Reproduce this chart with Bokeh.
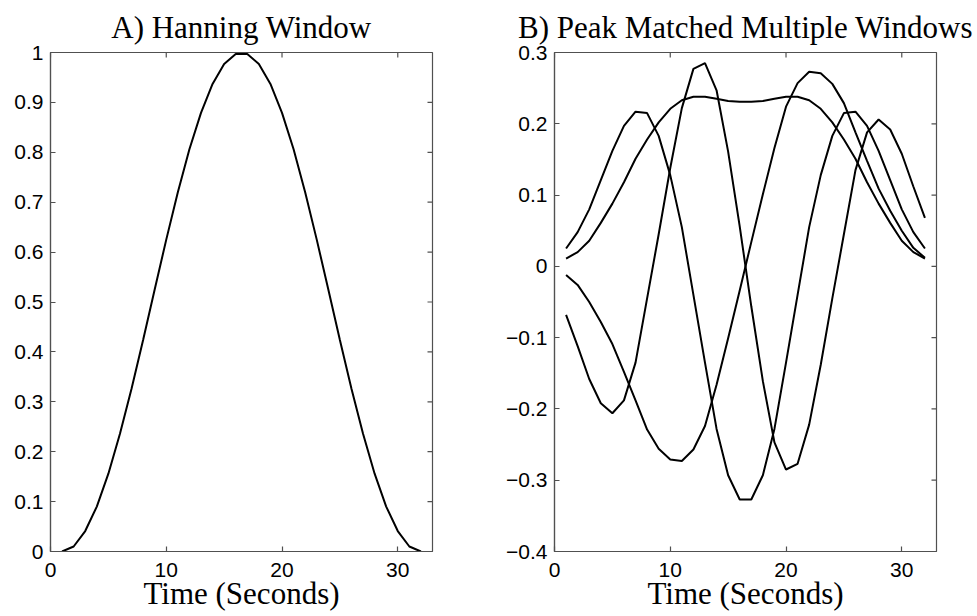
import math
from bokeh.plotting import figure
from bokeh.layouts import row
from bokeh.models import FixedTicker, CustomJSTickFormatter, Range1d, ColumnDataSource
from bokeh.embed import file_html
from bokeh.resources import INLINE

# ---- data ----
time_s = [1, 2, 3, 4, 5, 6, 7, 8, 9, 10, 11, 12, 13, 14, 15, 16,
          17, 18, 19, 20, 21, 22, 23, 24, 25, 26, 27, 28, 29, 30, 31, 32]

hanning = [0.000, 0.010, 0.041, 0.090, 0.156, 0.236, 0.326, 0.424,
           0.525, 0.625, 0.720, 0.806, 0.879, 0.937, 0.977, 0.997,
           0.997, 0.977, 0.937, 0.879, 0.806, 0.720, 0.625, 0.525,
           0.424, 0.326, 0.236, 0.156, 0.090, 0.041, 0.010, 0.000]

window1 = [0.011, 0.020, 0.036, 0.061, 0.088, 0.118, 0.151, 0.178,
           0.202, 0.221, 0.233, 0.238, 0.238, 0.235, 0.232, 0.231,
           0.231, 0.232, 0.235, 0.238, 0.238, 0.233, 0.221, 0.202,
           0.178, 0.151, 0.118, 0.088, 0.061, 0.036, 0.020, 0.011]

window2 = [-0.012, -0.026, -0.050, -0.078, -0.109, -0.148, -0.188, -0.229,
           -0.256, -0.271, -0.273, -0.257, -0.224, -0.166, -0.101, -0.034,
           0.034, 0.101, 0.166, 0.224, 0.257, 0.273, 0.271, 0.256,
           0.229, 0.188, 0.148, 0.109, 0.078, 0.050, 0.026, 0.012]

window3 = [0.025, 0.048, 0.080, 0.121, 0.162, 0.197, 0.217, 0.215,
           0.183, 0.128, 0.055, -0.040, -0.135, -0.228, -0.293, -0.327,
           -0.327, -0.293, -0.228, -0.135, -0.040, 0.055, 0.128, 0.183,
           0.215, 0.217, 0.197, 0.162, 0.121, 0.080, 0.048, 0.025]

window4 = [-0.068, -0.112, -0.158, -0.192, -0.206, -0.188, -0.135, -0.045,
           0.045, 0.138, 0.222, 0.277, 0.285, 0.247, 0.161, 0.056,
           -0.056, -0.161, -0.247, -0.285, -0.277, -0.222, -0.138, -0.045,
           0.045, 0.135, 0.188, 0.206, 0.192, 0.158, 0.112, 0.068]

x_ticks = [0, 10, 20, 30]
left_y_ticks = [0, 0.1, 0.2, 0.3, 0.4, 0.5, 0.6, 0.7, 0.8, 0.9, 1.0]
right_y_ticks = [-0.4, -0.3, -0.2, -0.1, 0, 0.1, 0.2, 0.3]

x_limits = (0, 33)
left_y_limits = (0, 1)
right_y_limits = (-0.4, 0.3)

title_a = "A) Hanning Window"
title_b = "B) Peak Matched Multiple Windows"
x_label = "Time (Seconds)"

# ---- styling ----
SANS = "Liberation Sans"
SERIF = "Liberation Serif"
AX_COLOR = "#505050"
FIG_H = 616
FMT = CustomJSTickFormatter(code="""
    let s = (Math.abs(tick) < 1e-9) ? "0" : (Math.round(tick * 10) / 10).toString();
    return s.replace("-", "\u2212");
""")


def style_axis(ax, ticks):
    ax.ticker = FixedTicker(ticks=ticks)
    ax.axis_line_color = AX_COLOR
    ax.axis_line_width = 1.2
    ax.major_tick_line_color = AX_COLOR
    ax.major_tick_line_width = 1.2
    ax.major_tick_in = 5
    ax.major_tick_out = 0
    ax.minor_tick_line_color = None
    ax.formatter = FMT
    ax.major_label_text_font = SANS
    ax.major_label_text_font_size = "21px"
    ax.major_label_text_color = "black"


def make_panel(title, ys_list, y_limits, y_ticks, width, border_left, border_right):
    p = figure(width=width, height=FIG_H, output_backend="svg", toolbar_location=None,
               x_range=Range1d(*x_limits), y_range=Range1d(*y_limits),
               min_border_left=border_left, min_border_right=border_right,
               min_border_top=52, min_border_bottom=65)
    p.title.text = title
    p.title.text_font = SERIF
    p.title.text_font_size = "31px"
    p.title.text_font_style = "normal"
    p.title.text_color = "black"
    p.title.align = "center"
    p.title.standoff = 15
    p.grid.visible = False
    p.outline_line_color = AX_COLOR
    p.outline_line_width = 1.2
    p.background_fill_color = "white"
    p.border_fill_color = "white"

    style_axis(p.xaxis[0], x_ticks)
    p.xaxis[0].major_label_standoff = 11
    p.xaxis[0].axis_label = x_label
    p.xaxis[0].axis_label_text_font = SERIF
    p.xaxis[0].axis_label_text_font_size = "31px"
    p.xaxis[0].axis_label_text_font_style = "normal"
    p.xaxis[0].axis_label_text_color = "black"
    p.xaxis[0].axis_label_standoff = -4

    style_axis(p.yaxis[0], y_ticks)
    p.yaxis[0].major_label_standoff = 7

    # inward ticks on the right and top edges of the box (MATLAB style)
    p.ray(x=[x_limits[1]] * len(y_ticks), y=y_ticks, length=5, length_units="screen",
          angle=math.pi, line_color=AX_COLOR, line_width=1.2)
    p.ray(x=x_ticks, y=[y_limits[1]] * len(x_ticks), length=5, length_units="screen",
          angle=-math.pi / 2, line_color=AX_COLOR, line_width=1.2)

    for ys in ys_list:
        src = ColumnDataSource(data=dict(x=time_s, y=ys))
        p.line("x", "y", source=src, line_color="black", line_width=2)
    return p


p1 = make_panel(title_a, [hanning], left_y_limits, left_y_ticks, 490, 50, 58)
p2 = make_panel(title_b, [window1, window2, window3, window4], right_y_limits,
                right_y_ticks, 487, 64, 41)

layout = row(p1, p2)
open("out.html", "w").write(file_html(layout, INLINE))
